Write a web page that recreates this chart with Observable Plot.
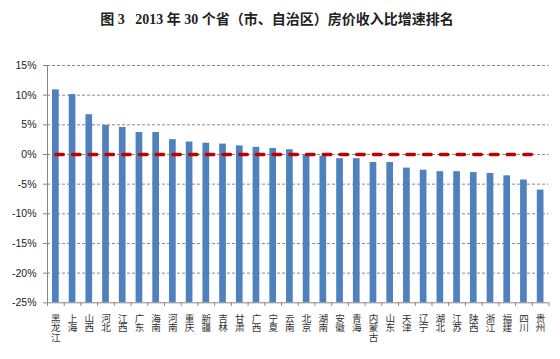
<!DOCTYPE html>
<html>
<head>
<meta charset="utf-8">
<script src="https://cdn.jsdelivr.net/npm/d3@7"></script>
<script src="https://cdn.jsdelivr.net/npm/@observablehq/plot@0.6"></script>
<style>
  html, body { margin: 0; padding: 0; background: #fff; }
  #title { width: 560px; height: 40px; line-height: 40px; text-align: center; padding-right: 6px; box-sizing: border-box;
    font-family: "Liberation Serif", "Noto Sans CJK SC", serif; font-weight: bold; font-size: 14px; letter-spacing: 0; color: #222; }
</style>
</head>
<body>
<div id="title">图 3&nbsp;&nbsp;&nbsp;2013 年 30 个省（市、自治区）房价收入比增速排名</div>
<div id="chart"></div>
<script>
const provinces = ["黑龙江","上海","山西","河北","江西","广东","海南","河南","重庆","新疆","吉林","甘肃","广西","宁夏","云南","北京","湖南","安徽","青海","内蒙古","山东","天津","辽宁","湖北","江苏","陕西","浙江","福建","四川","贵州"];
const growth = [10.9,10.1,6.7,4.9,4.55,3.7,3.7,2.5,2.1,1.9,1.75,1.45,1.2,1.0,0.8,-0.1,-0.3,-0.7,-0.7,-1.35,-1.35,-2.3,-2.65,-2.9,-2.9,-3.05,-3.2,-3.6,-4.3,-6.0];
const yTicks = [15,10,5,0,-5,-10,-15,-20,-25];
const gridValues = [15,10,5,0,-5,-10,-15,-20];
const baseline = -25;

const data = provinces.map((name, i) => ({name, value: growth[i]}));
// one entry per character of each vertical category label
const labelChars = provinces.flatMap(name => [...name].map((ch, row) => ({name, ch, row})));

const W = 560, H = 319, mL = 47, mR = 11.5, mT = 25, mB = 56.7;
const step = (W - mL - mR) / provinces.length;
const rowGap = 9.8;

const chart = Plot.plot({
  width: W, height: H,
  marginLeft: mL, marginRight: mR, marginTop: mT, marginBottom: mB,
  style: {fontFamily: "Liberation Sans, sans-serif", background: "#fff"},
  x: {domain: provinces, paddingInner: 0.6, paddingOuter: 0.3, round: false, axis: null},
  y: {domain: [-25, 15], axis: null},
  marks: [
    Plot.ruleY(gridValues, {stroke: "#8a8a8a", strokeWidth: 1, strokeDasharray: "3,2"}),
    Plot.barY(data, {x: "name", y1: baseline, y2: "value", fill: "#4F81BD"}),
    Plot.lineY(data, {x: "name", y: () => 0, stroke: "#C00000", strokeWidth: 3.6, strokeLinecap: "round",
      strokeDasharray: `7.4,${(step - 7.4).toFixed(3)}`}),
    // left axis line
    Plot.ruleX([provinces[0]], {dx: -step / 2, y1: -25, y2: 15, stroke: "#868686"}),
    // bottom axis line
    Plot.ruleY([baseline], {stroke: "#868686"}),
    // x tick marks at category boundaries
    Plot.ruleX(provinces, {dx: -step / 2, y1: baseline, y2: baseline - 0.6, stroke: "#868686"}),
    Plot.ruleX([provinces[provinces.length - 1]], {dx: step / 2, y1: baseline, y2: baseline - 0.6, stroke: "#868686"}),
    Plot.axisY({ticks: yTicks, tickSize: 4, tickPadding: 7, tickFormat: d => d + "%", label: null, stroke: "#868686",
      fill: "#222", fontSize: 10.5, fontFamily: "Liberation Sans, sans-serif"}),
    ...[0, 1, 2].map(r => Plot.text(labelChars.filter(d => d.row === r), {
      x: "name", y: baseline, text: "ch", lineAnchor: "top", dy: 12 + r * rowGap,
      fontSize: 9.6, fill: "#333", fontFamily: "Noto Sans CJK SC, sans-serif"}))
  ]
});
document.getElementById("chart").appendChild(chart);
</script>
</body>
</html>
